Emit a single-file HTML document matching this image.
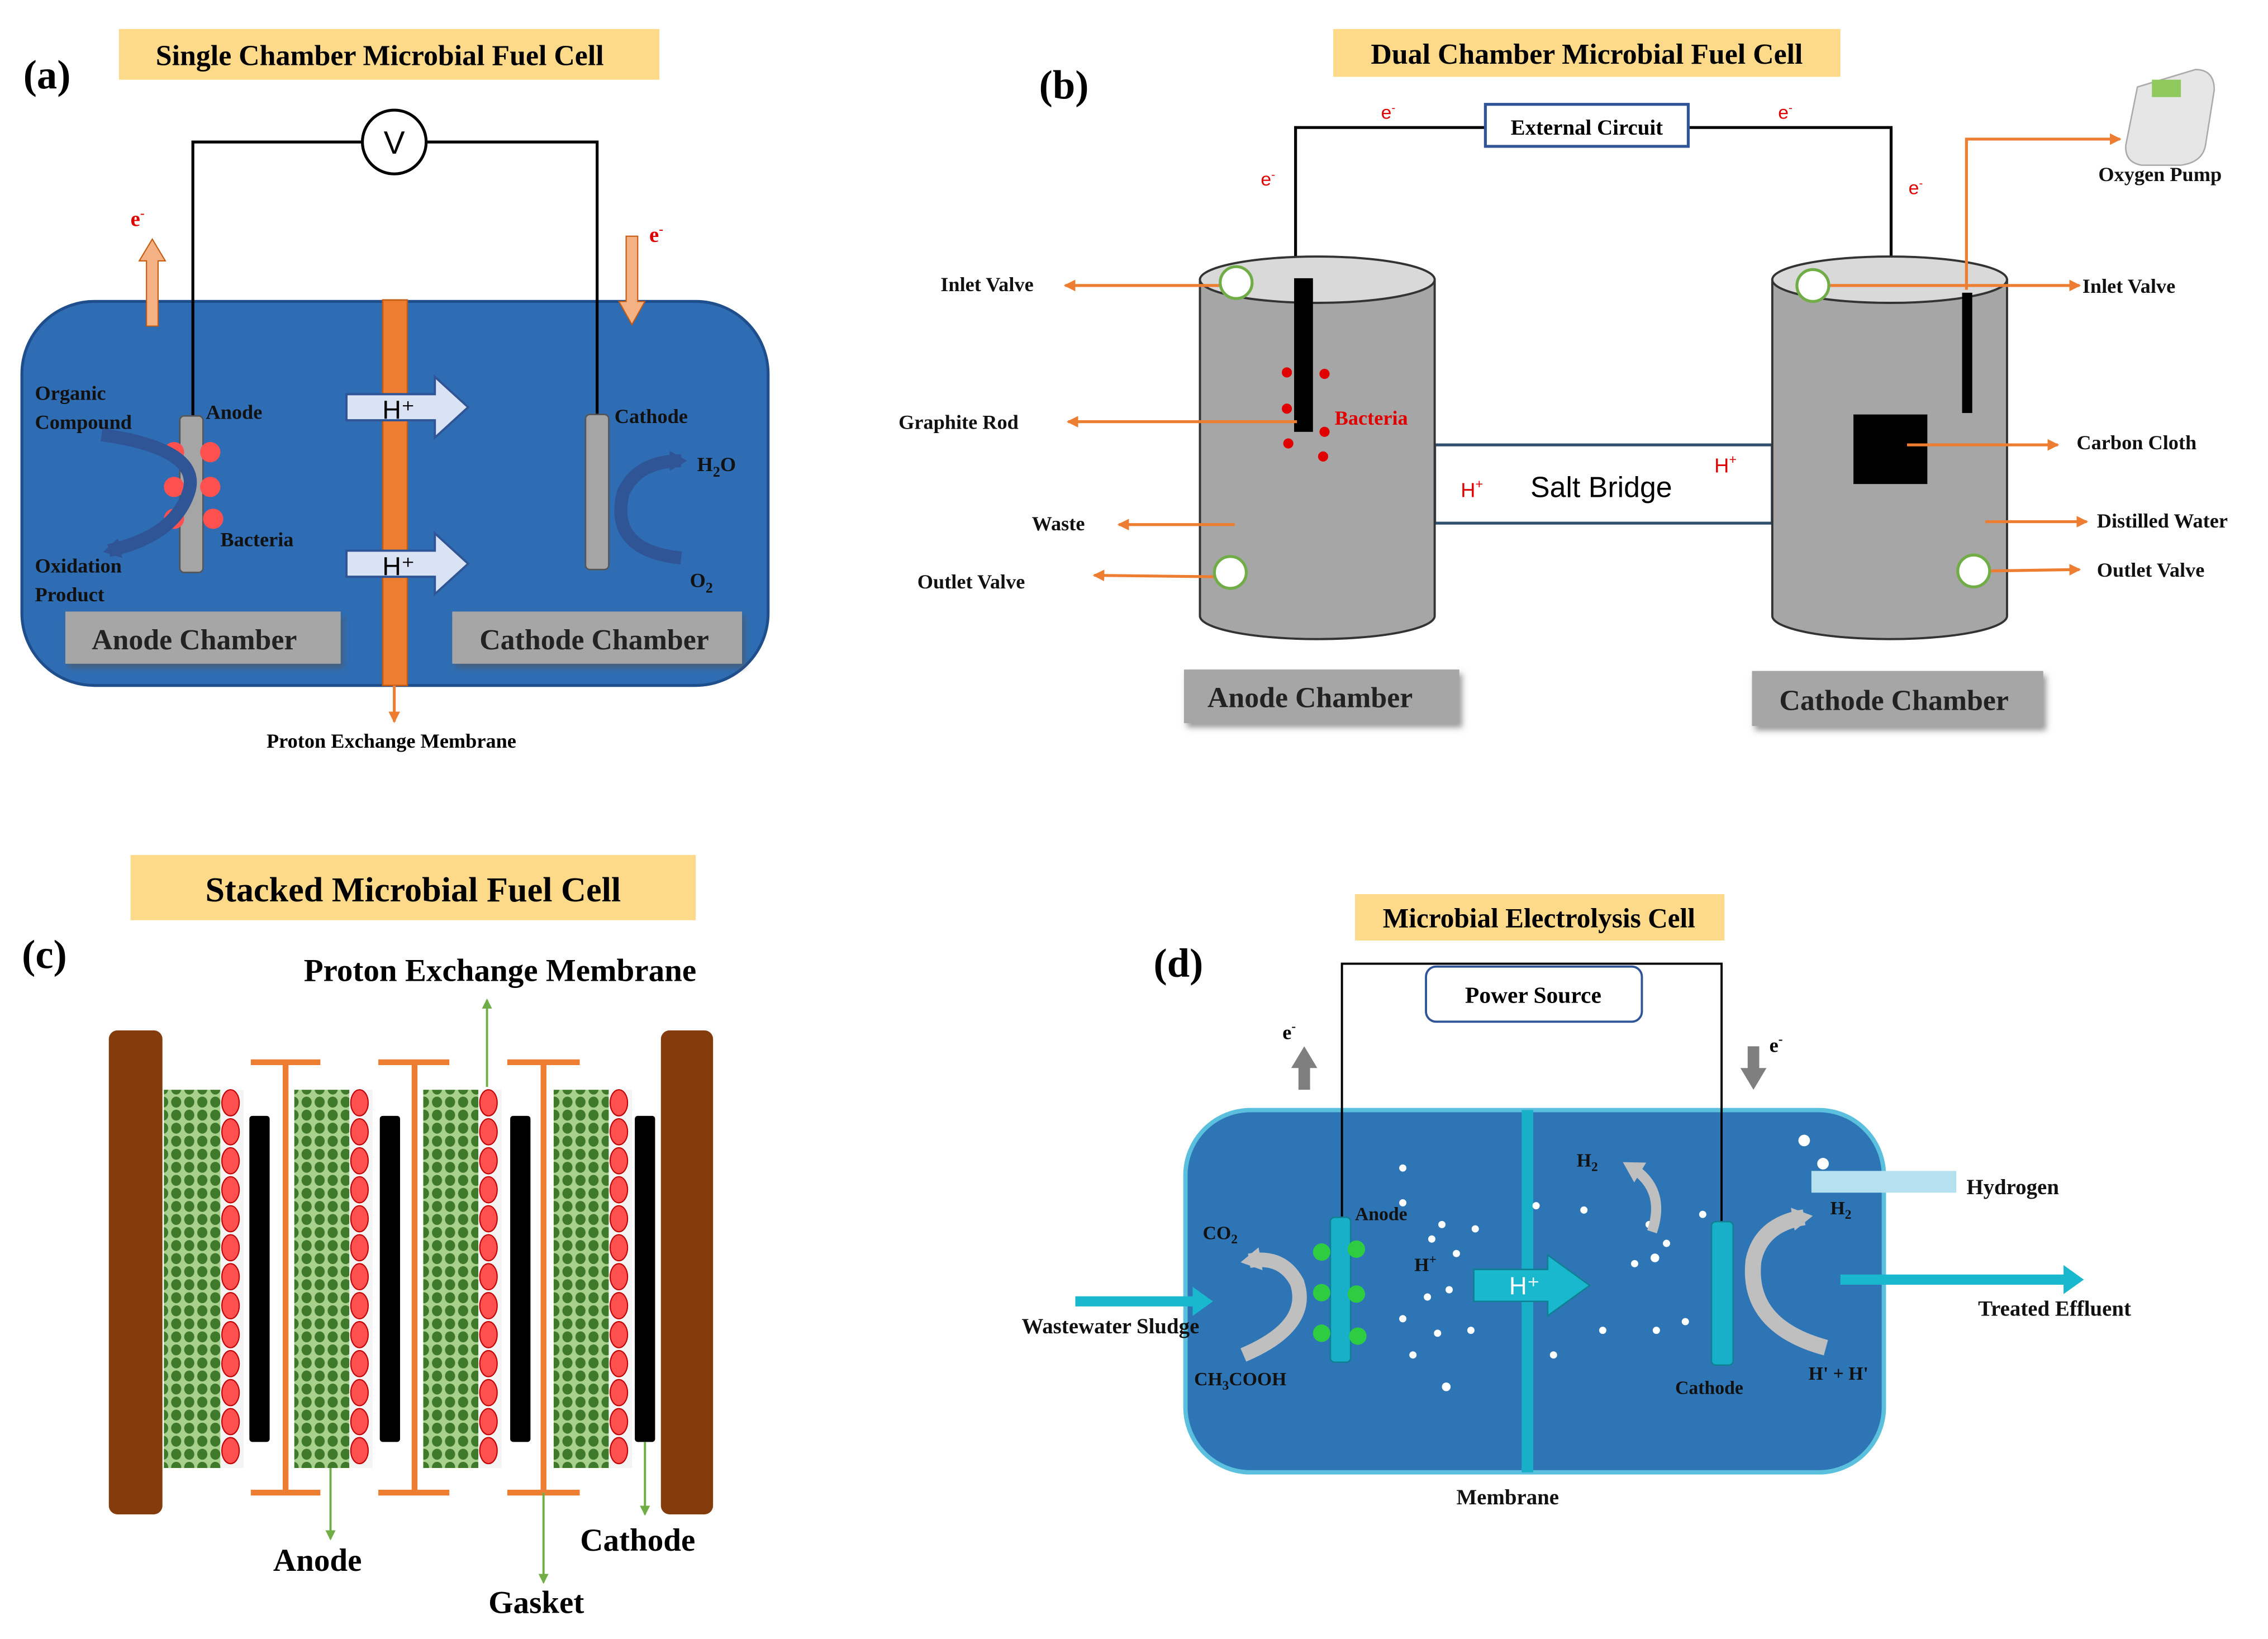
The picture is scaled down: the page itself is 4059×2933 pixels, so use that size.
<!DOCTYPE html>
<html><head><meta charset="utf-8"><style>
html,body{margin:0;padding:0;background:#fff;}
svg{display:block;}
text{font-family:"Liberation Serif",serif;font-weight:bold;}
</style></head><body>
<svg width="4059" height="2933" viewBox="0 0 1565 1131" xmlns="http://www.w3.org/2000/svg">
<defs>
<marker id="ao" markerWidth="8" markerHeight="8" refX="7" refY="4" orient="auto" markerUnits="userSpaceOnUse"><path d="M0,0 L8,4 L0,8 z" fill="#ed7d31"/></marker>
<marker id="ag" markerWidth="7" markerHeight="7" refX="6" refY="3.5" orient="auto" markerUnits="userSpaceOnUse"><path d="M0,0 L7,3.5 L0,7 z" fill="#70ad47"/></marker>
<marker id="ab" markerWidth="14" markerHeight="14" refX="8" refY="7" orient="auto" markerUnits="userSpaceOnUse"><path d="M0,0 L12,7 L0,14 z" fill="#2f5597"/></marker>
<marker id="agr" markerWidth="16" markerHeight="16" refX="8" refY="8" orient="auto" markerUnits="userSpaceOnUse"><path d="M0,0 L14,8 L0,16 z" fill="#bfbfbf"/></marker>
<pattern id="mesh" width="9" height="9" patternUnits="userSpaceOnUse">
<rect width="9" height="9" fill="#a9d18e"/><ellipse cx="4.5" cy="4.5" rx="3.5" ry="3.8" fill="#3f7a2a"/>
</pattern>
<filter id="sh" x="-10%" y="-10%" width="130%" height="140%"><feDropShadow dx="2" dy="3" stdDeviation="2" flood-color="#555" flood-opacity="0.6"/></filter>
</defs>

<!-- ============ (a) ============ -->
<text x="16" y="61" font-size="28">(a)</text>
<rect x="82" y="20" width="373" height="35" fill="#fdd98a"/>
<text x="262" y="45" font-size="20" text-anchor="middle">Single Chamber Microbial Fuel Cell</text>
<rect x="15" y="208" width="515" height="265" rx="50" fill="#2e6db4" stroke="#1f4e8c" stroke-width="2"/>
<polyline points="133,290 133,98 250,98" fill="none" stroke="#000" stroke-width="2"/>
<polyline points="294,98 412,98 412,288" fill="none" stroke="#000" stroke-width="2"/>
<circle cx="272" cy="98" r="22" fill="#fff" stroke="#000" stroke-width="2"/>
<text x="272" y="106" font-size="22" text-anchor="middle" style="font-family:'Liberation Sans',sans-serif;font-weight:normal">V</text>
<rect x="264" y="207" width="17" height="266" fill="#ed7d31" stroke="#c55a11"/>
<line x1="272" y1="473" x2="272" y2="498" stroke="#ed7d31" stroke-width="2" marker-end="url(#ao)"/>
<text x="270" y="516" font-size="14" text-anchor="middle">Proton Exchange Membrane</text>
<rect x="124" y="287" width="16" height="108" rx="3" fill="#a5a5a5" stroke="#555"/>
<rect x="404" y="286" width="16" height="107" rx="3" fill="#a5a5a5" stroke="#555"/>
<g fill="#ff5050">
<circle cx="120" cy="312" r="7"/><circle cx="145" cy="312" r="7"/><circle cx="120" cy="336" r="7"/><circle cx="145" cy="336" r="7"/><circle cx="120" cy="358" r="7"/><circle cx="147" cy="358" r="7"/>
</g>
<path d="M70,300 Q140,310 130,340 Q120,370 75,380" fill="none" stroke="#2f5597" stroke-width="9" marker-end="url(#ab)"/>
<path d="M470,385 Q420,380 430,340 Q440,318 470,318" fill="none" stroke="#2f5597" stroke-width="9" marker-end="url(#ab)"/>
<path d="M239,272 L300,272 L300,260 L323,281 L300,302 L300,290 L239,290 z" fill="#dae3f3" stroke="#2f5597" stroke-width="1.5"/>
<text x="275" y="289" font-size="18" style="font-family:'Liberation Sans',sans-serif;font-weight:normal" text-anchor="middle">H⁺</text>
<path d="M239,380 L300,380 L300,368 L323,389 L300,410 L300,398 L239,398 z" fill="#dae3f3" stroke="#2f5597" stroke-width="1.5"/>
<text x="275" y="397" font-size="18" style="font-family:'Liberation Sans',sans-serif;font-weight:normal" text-anchor="middle">H⁺</text>
<path d="M101,225 L101,180 L96,180 L105,165 L114,180 L109,180 L109,225 z" fill="#f4b183" stroke="#c55a11" stroke-width="0.8"/>
<path d="M432,163 L440,163 L440,208 L445,208 L436,224 L427,208 L432,208 z" fill="#f4b183" stroke="#c55a11" stroke-width="0.8"/>
<text x="90" y="156" font-size="15" fill="#e00000">e<tspan font-size="9" dy="-6">-</tspan></text>
<text x="448" y="167" font-size="15" fill="#e00000">e<tspan font-size="9" dy="-6">-</tspan></text>
<g font-size="14" fill="#111">
<text x="24" y="276">Organic</text><text x="24" y="296">Compound</text>
<text x="142" y="289">Anode</text><text x="152" y="377">Bacteria</text>
<text x="24" y="395">Oxidation</text><text x="24" y="415">Product</text>
<text x="424" y="292">Cathode</text>
<text x="481" y="325">H<tspan font-size="10" dy="4">2</tspan><tspan dy="-4">O</tspan></text>
<text x="476" y="405">O<tspan font-size="10" dy="4">2</tspan></text>
</g>
<rect x="45" y="422" width="190" height="36" fill="#a6a6a6" filter="url(#sh)"/>
<text x="134" y="448" font-size="20" text-anchor="middle" fill="#222">Anode Chamber</text>
<rect x="312" y="422" width="200" height="36" fill="#a6a6a6" filter="url(#sh)"/>
<text x="410" y="448" font-size="20" text-anchor="middle" fill="#222">Cathode Chamber</text>

<!-- ============ (b) ============ -->
<text x="717" y="68" font-size="28">(b)</text>
<rect x="920" y="20" width="350" height="33" fill="#fdd98a"/>
<text x="1095" y="44" font-size="20" text-anchor="middle">Dual Chamber Microbial Fuel Cell</text>
<polyline points="899,195 894,195 894,88 1025,88" fill="none" stroke="#000" stroke-width="2"/>
<polyline points="1165,88 1305,88 1305,288" fill="none" stroke="#000" stroke-width="2"/>
<rect x="1025" y="72" width="140" height="29" fill="#fff" stroke="#2f5597" stroke-width="2"/>
<text x="1095" y="93" font-size="15" text-anchor="middle">External Circuit</text>
<g font-size="13" fill="#e00000">
<text x="953" y="82" style="font-weight:normal;font-family:'Liberation Sans',sans-serif">e<tspan font-size="8" dy="-5">-</tspan></text>
<text x="1227" y="82" style="font-weight:normal;font-family:'Liberation Sans',sans-serif">e<tspan font-size="8" dy="-5">-</tspan></text>
<text x="870" y="128" style="font-weight:normal;font-family:'Liberation Sans',sans-serif">e<tspan font-size="8" dy="-5">-</tspan></text>
<text x="1317" y="134" style="font-weight:normal;font-family:'Liberation Sans',sans-serif">e<tspan font-size="8" dy="-5">-</tspan></text>
</g>
<rect x="990" y="307" width="233" height="54" fill="#fff" stroke="#2f4f6f" stroke-width="2"/>
<text x="1105" y="343" font-size="20" text-anchor="middle" style="font-family:'Liberation Sans',sans-serif;font-weight:normal">Salt Bridge</text>
<text x="1008" y="343" font-size="14" fill="#e00000" style="font-family:'Liberation Sans',sans-serif;font-weight:normal">H<tspan font-size="9" dy="-6">+</tspan></text>
<text x="1183" y="326" font-size="14" fill="#e00000" style="font-family:'Liberation Sans',sans-serif;font-weight:normal">H<tspan font-size="9" dy="-6">+</tspan></text>
<path d="M828,193 L828,425 A81,16 0 0 0 990,425 L990,193 z" fill="#a6a6a6" stroke="#333" stroke-width="1.5"/>
<ellipse cx="909" cy="193" rx="81" ry="16" fill="#d9d9d9" stroke="#333" stroke-width="1.5"/>
<path d="M1223,193 L1223,425 A81,16 0 0 0 1385,425 L1385,193 z" fill="#a6a6a6" stroke="#333" stroke-width="1.5"/>
<ellipse cx="1304" cy="193" rx="81" ry="16" fill="#d9d9d9" stroke="#333" stroke-width="1.5"/>
<rect x="893" y="192" width="13" height="106" fill="#000"/>
<rect x="1279" y="286" width="51" height="48" fill="#000"/>
<rect x="1354" y="202" width="7" height="83" fill="#000"/>
<g fill="#e00000">
<circle cx="888" cy="257" r="3.5"/><circle cx="914" cy="258" r="3.5"/><circle cx="888" cy="282" r="3.5"/><circle cx="914" cy="298" r="3.5"/><circle cx="889" cy="306" r="3.5"/><circle cx="913" cy="315" r="3.5"/>
</g>
<text x="921" y="293" font-size="14" fill="#e00000">Bacteria</text>
<g stroke="#ed7d31" stroke-width="2" fill="none">
<line x1="842" y1="197" x2="735" y2="197" marker-end="url(#ao)"/>
<line x1="895" y1="291" x2="737" y2="291" marker-end="url(#ao)"/>
<line x1="852" y1="362" x2="772" y2="362" marker-end="url(#ao)"/>
<line x1="838" y1="398" x2="755" y2="397" marker-end="url(#ao)"/>
<line x1="1262" y1="197" x2="1435" y2="197" marker-end="url(#ao)"/>
<line x1="1316" y1="307" x2="1420" y2="307" marker-end="url(#ao)"/>
<line x1="1370" y1="360" x2="1440" y2="360" marker-end="url(#ao)"/>
<line x1="1372" y1="394" x2="1435" y2="393" marker-end="url(#ao)"/>
<polyline points="1357,200 1357,96 1463,96" marker-end="url(#ao)"/>
</g>
<g fill="#fff" stroke="#70ad47" stroke-width="2">
<circle cx="853" cy="195" r="11"/><circle cx="849" cy="395" r="11"/><circle cx="1251" cy="197" r="11"/><circle cx="1362" cy="394" r="11"/>
</g>
<g font-size="14" fill="#111">
<text x="649" y="201">Inlet Valve</text>
<text x="620" y="296">Graphite Rod</text>
<text x="712" y="366">Waste</text>
<text x="633" y="406">Outlet Valve</text>
<text x="1437" y="202">Inlet Valve</text>
<text x="1433" y="310">Carbon Cloth</text>
<text x="1447" y="364">Distilled Water</text>
<text x="1447" y="398">Outlet Valve</text>
<text x="1448" y="125">Oxygen Pump</text>
</g>
<g>
<path d="M1475,60 L1515,48 Q1528,48 1528,62 L1522,100 Q1520,112 1505,114 L1478,114 Q1466,112 1467,100 Z" fill="#e7e6e6" stroke="#aaa"/>
<rect x="1485" y="55" width="20" height="12" fill="#8fc95c"/>
</g>
<rect x="817" y="462" width="190" height="37" fill="#a6a6a6" filter="url(#sh)"/>
<text x="904" y="488" font-size="20" text-anchor="middle" fill="#222">Anode Chamber</text>
<rect x="1209" y="463" width="201" height="38" fill="#a6a6a6" filter="url(#sh)"/>
<text x="1307" y="490" font-size="20" text-anchor="middle" fill="#222">Cathode Chamber</text>

<!-- ============ (c) ============ -->
<text x="15" y="668" font-size="28">(c)</text>
<rect x="90" y="590" width="390" height="45" fill="#fdd98a"/>
<text x="285" y="622" font-size="24" text-anchor="middle">Stacked Microbial Fuel Cell</text>
<rect x="75" y="711" width="37" height="334" rx="6" fill="#843c0c"/>
<rect x="456" y="711" width="36" height="334" rx="6" fill="#843c0c"/>
<g>
<rect x="113" y="752" width="39" height="261" fill="url(#mesh)"/>
<rect x="203" y="752" width="38" height="261" fill="url(#mesh)"/>
<rect x="292" y="752" width="38" height="261" fill="url(#mesh)"/>
<rect x="382" y="752" width="38" height="261" fill="url(#mesh)"/>
</g>
<g fill="#f4f4f4">
<rect x="152" y="752" width="16" height="261"/><rect x="241" y="752" width="16" height="261"/><rect x="330" y="752" width="16" height="261"/><rect x="420" y="752" width="16" height="261"/>
</g>
<g fill="#ff5050" stroke="#c00000" stroke-width="0.8" id="chain">
<ellipse cx="159" cy="761" rx="6" ry="9"/><ellipse cx="159" cy="781" rx="6" ry="9"/><ellipse cx="159" cy="801" rx="6" ry="9"/><ellipse cx="159" cy="821" rx="6" ry="9"/><ellipse cx="159" cy="841" rx="6" ry="9"/><ellipse cx="159" cy="861" rx="6" ry="9"/><ellipse cx="159" cy="881" rx="6" ry="9"/><ellipse cx="159" cy="901" rx="6" ry="9"/><ellipse cx="159" cy="921" rx="6" ry="9"/><ellipse cx="159" cy="941" rx="6" ry="9"/><ellipse cx="159" cy="961" rx="6" ry="9"/><ellipse cx="159" cy="981" rx="6" ry="9"/><ellipse cx="159" cy="1001" rx="6" ry="9"/>
</g>
<use href="#chain" x="89"/><use href="#chain" x="178"/><use href="#chain" x="268"/>
<g fill="#000">
<rect x="172" y="770" width="14" height="225" rx="2"/><rect x="262" y="770" width="14" height="225" rx="2"/><rect x="352" y="770" width="14" height="225" rx="2"/><rect x="438" y="770" width="14" height="225" rx="2"/>
</g>
<g stroke="#ed7d31" stroke-width="4" fill="none">
<path d="M173,733 H221 M197,733 V1030 M173,1030 H221"/>
<path d="M261,733 H310 M286,733 V1030 M261,1030 H310"/>
<path d="M350,733 H400 M375,733 V1030 M350,1030 H400"/>
</g>
<g stroke="#70ad47" stroke-width="1.5" fill="none">
<line x1="336" y1="750" x2="336" y2="690" marker-end="url(#ag)"/>
<line x1="228" y1="1013" x2="228" y2="1062" marker-end="url(#ag)"/>
<line x1="375" y1="1030" x2="375" y2="1092" marker-end="url(#ag)"/>
<line x1="445" y1="995" x2="445" y2="1045" marker-end="url(#ag)"/>
</g>
<g font-size="22">
<text x="345" y="677" text-anchor="middle">Proton Exchange Membrane</text>
<text x="219" y="1084" text-anchor="middle">Anode</text>
<text x="370" y="1113" text-anchor="middle">Gasket</text>
<text x="440" y="1070" text-anchor="middle">Cathode</text>
</g>

<!-- ============ (d) ============ -->
<text x="796" y="674" font-size="28">(d)</text>
<rect x="935" y="617" width="255" height="32" fill="#fdd98a"/>
<text x="1062" y="640" font-size="19" text-anchor="middle">Microbial Electrolysis Cell</text>
<rect x="818" y="766" width="482" height="250" rx="45" fill="#2e75b6" stroke="#5bc0de" stroke-width="3"/>
<rect x="1050" y="766" width="8" height="250" fill="#17b0c8"/>
<polyline points="926,842 926,665 1188,665 1188,845" fill="none" stroke="#000" stroke-width="1.5"/>
<rect x="984" y="667" width="149" height="38" rx="7" fill="#fff" stroke="#2f5597" stroke-width="1.5"/>
<text x="1058" y="692" font-size="16" text-anchor="middle">Power Source</text>
<path d="M896,752 L896,737 L891,737 L900,722 L909,737 L904,737 L904,752 z" fill="#7f7f7f"/>
<path d="M1206,722 L1214,722 L1214,737 L1219,737 L1210,752 L1201,737 L1206,737 z" fill="#7f7f7f"/>
<text x="885" y="717" font-size="14">e<tspan font-size="9" dy="-6">-</tspan></text>
<text x="1221" y="726" font-size="14">e<tspan font-size="9" dy="-6">-</tspan></text>
<rect x="918" y="840" width="14" height="100" rx="3" fill="#17b0c8" stroke="#0f7f92"/>
<rect x="1181" y="843" width="15" height="99" rx="3" fill="#17b0c8" stroke="#0f7f92"/>
<g fill="#2ecc40">
<circle cx="912" cy="864" r="6"/><circle cx="936" cy="862" r="6"/><circle cx="912" cy="892" r="6"/><circle cx="936" cy="893" r="6"/><circle cx="912" cy="920" r="6"/><circle cx="937" cy="922" r="6"/>
</g>
<path d="M1017,876 L1068,876 L1068,866 L1097,887 L1068,908 L1068,898 L1017,898 z" fill="#1ab8cf" stroke="#0f7f92"/>
<text x="1052" y="893" font-size="17" fill="#fff" text-anchor="middle" style="font-family:'Liberation Sans',sans-serif;font-weight:normal">H⁺</text>
<g fill="#fff">
<circle cx="968" cy="806" r="2.5"/><circle cx="988" cy="855" r="2.5"/><circle cx="995" cy="845" r="2.5"/><circle cx="1018" cy="848" r="2.5"/><circle cx="1005" cy="865" r="2.5"/><circle cx="968" cy="830" r="2.5"/><circle cx="1000" cy="890" r="2.5"/><circle cx="985" cy="895" r="2.5"/><circle cx="968" cy="910" r="2.5"/><circle cx="992" cy="920" r="2.5"/><circle cx="1015" cy="918" r="2.5"/><circle cx="975" cy="935" r="2.5"/><circle cx="998" cy="957" r="3"/>
<circle cx="1060" cy="832" r="2.5"/><circle cx="1093" cy="835" r="2.5"/><circle cx="1138" cy="845" r="2.5"/><circle cx="1128" cy="872" r="2.5"/><circle cx="1142" cy="868" r="3"/><circle cx="1150" cy="858" r="2.5"/><circle cx="1106" cy="918" r="2.5"/><circle cx="1143" cy="918" r="2.5"/><circle cx="1163" cy="912" r="2.5"/><circle cx="1072" cy="935" r="2.5"/><circle cx="1175" cy="838" r="2.5"/>
<circle cx="1245" cy="787" r="4"/><circle cx="1258" cy="803" r="4"/><circle cx="1270" cy="812" r="4"/>
</g>
<path d="M858,935 Q905,915 895,885 Q885,866 862,870" fill="none" stroke="#bfbfbf" stroke-width="10" marker-end="url(#agr)"/>
<path d="M1260,930 Q1205,915 1210,870 Q1215,845 1245,840" fill="none" stroke="#bfbfbf" stroke-width="11" marker-end="url(#agr)"/>
<path d="M1140,850 Q1150,820 1125,805" fill="none" stroke="#bfbfbf" stroke-width="7" marker-end="url(#agr)"/>
<rect x="1250" y="808" width="100" height="15" fill="#b4e0f0"/>
<line x1="742" y1="898" x2="825" y2="898" stroke="#1ab8cf" stroke-width="7"/>
<path d="M823,888 L837,898 L823,908 z" fill="#1ab8cf"/>
<line x1="1270" y1="883" x2="1425" y2="883" stroke="#1ab8cf" stroke-width="7"/>
<path d="M1424,873 L1438,883 L1424,893 z" fill="#1ab8cf"/>
<g font-size="15" fill="#111">
<text x="1357" y="824">Hydrogen</text>
<text x="1365" y="908">Treated Effluent</text>
<text x="705" y="920">Wastewater Sludge</text>
<text x="1005" y="1038">Membrane</text>
</g>
<g font-size="13" fill="#111">
<text x="935" y="842">Anode</text>
<text x="1156" y="962">Cathode</text>
<text x="830" y="855">CO<tspan font-size="9" dy="3">2</tspan></text>
<text x="824" y="956">CH<tspan font-size="9" dy="3">3</tspan><tspan dy="-3">COOH</tspan></text>
<text x="976" y="877">H<tspan font-size="9" dy="-5">+</tspan></text>
<text x="1088" y="805">H<tspan font-size="9" dy="3">2</tspan></text>
<text x="1263" y="838">H<tspan font-size="9" dy="3">2</tspan></text>
<text x="1248" y="952">H' + H'</text>
</g>
</svg>
</body></html>
